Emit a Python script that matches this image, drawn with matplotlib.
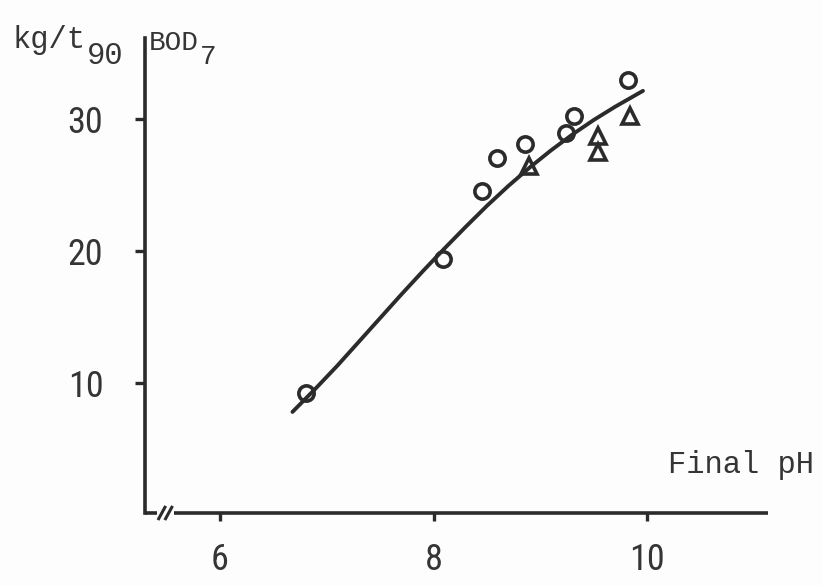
import numpy as np
import matplotlib.pyplot as plt
from matplotlib import font_manager

# data
ph_circles = [6.81, 8.09, 8.45, 8.59, 8.86, 9.24, 9.31, 9.82]
bod_circles = [9.2, 19.4, 24.5, 27.0, 28.1, 28.9, 30.2, 32.9]
ph_triangles = [8.89, 9.54, 9.54, 9.84]
bod_triangles = [26.4, 28.7, 27.5, 30.2]
curve_ph = [6.68, 6.9, 7.1, 7.3, 7.5, 7.7, 7.9, 8.1, 8.3, 8.5,
            8.7, 8.9, 9.1, 9.3, 9.5, 9.7, 9.96]
curve_bod = [7.8, 9.6, 11.3, 13.1, 14.9, 16.7, 18.45, 20.15, 21.8, 23.4,
             24.9, 26.3, 27.6, 28.8, 29.9, 30.9, 32.1]
xticks = [6, 8, 10]
yticks = [10, 20, 30]

ink = '#2b2b2b'
txt = '#353535'

names = {f.name for f in font_manager.fontManager.ttflist}
num_font = 'DejaVu Sans'
for cand in ['Liberation Sans Narrow', 'DejaVu Sans Condensed', 'Roboto Condensed']:
    if cand in names:
        num_font = cand
        break

fig = plt.figure(figsize=(8.22, 5.86), dpi=100)
fig.patch.set_facecolor('#fdfdfd')
ax = fig.add_axes([145/822, 1-513/586, (768-145)/822, (513-38)/586])
ax.set_facecolor('none')

ax.plot(curve_ph, curve_bod, color=ink, lw=2.8, solid_capstyle='round', solid_joinstyle='round')
ax.plot(ph_circles, bod_circles, 'o', ms=11, mfc='none', mec=ink, mew=2.6)
ax.plot(ph_triangles, bod_triangles, '^', ms=11, mfc='none', mec=ink, mew=2.6)

ax.set_xlim(5.30, 11.13)
ax.set_ylim(0.15, 36.1)
for s in ['top', 'right', 'bottom']:
    ax.spines[s].set_visible(False)
ax.spines['left'].set_linewidth(2.6)
ax.spines['left'].set_color(ink)

# bottom axis with a break near the origin
ax.plot([0, 0.02], [0, 0], transform=ax.transAxes, color=ink, lw=2.6, clip_on=False, solid_capstyle='butt')
ax.plot([0.047, 1.0], [0, 0], transform=ax.transAxes, color=ink, lw=2.6, clip_on=False, solid_capstyle='butt')
for x0 in [0.022, 0.033]:
    ax.plot([x0, x0 + 0.01], [-0.012, 0.012], transform=ax.transAxes, color=ink, lw=2.2, clip_on=False)

ax.set_xticks(xticks)
ax.set_yticks(yticks)
ax.set_xticklabels([str(v) for v in xticks], fontsize=26, family=num_font, color=txt)
ax.set_yticklabels([str(v) for v in yticks], fontsize=26, family=num_font, color=txt)
ax.tick_params(axis='x', direction='out', length=6, width=2.4, color=ink, pad=15)
ax.tick_params(axis='y', direction='out', length=7, width=2.4, color=ink, pad=23)

mono = 'Liberation Mono'
fig.text(12/822, 1-48/586, 'kg/t', family=mono, fontsize=22, color=txt, va='baseline', ha='left')
fig.text(87/822, 1-64/586, '90', family=mono, fontsize=22, color=txt, va='baseline', ha='left')
fig.text(149/822, 1-50/586, 'BOD', family=mono, fontsize=20, color=txt, va='baseline', ha='left')
fig.text(200/822, 1-64/586, '7', family=mono, fontsize=20, color=txt, va='baseline', ha='left')
fig.text(668/822, 1-473/586, 'Final pH', family=mono, fontsize=22, color=txt, va='baseline', ha='left')

fig.savefig('out.png', dpi=100, facecolor=fig.get_facecolor())
